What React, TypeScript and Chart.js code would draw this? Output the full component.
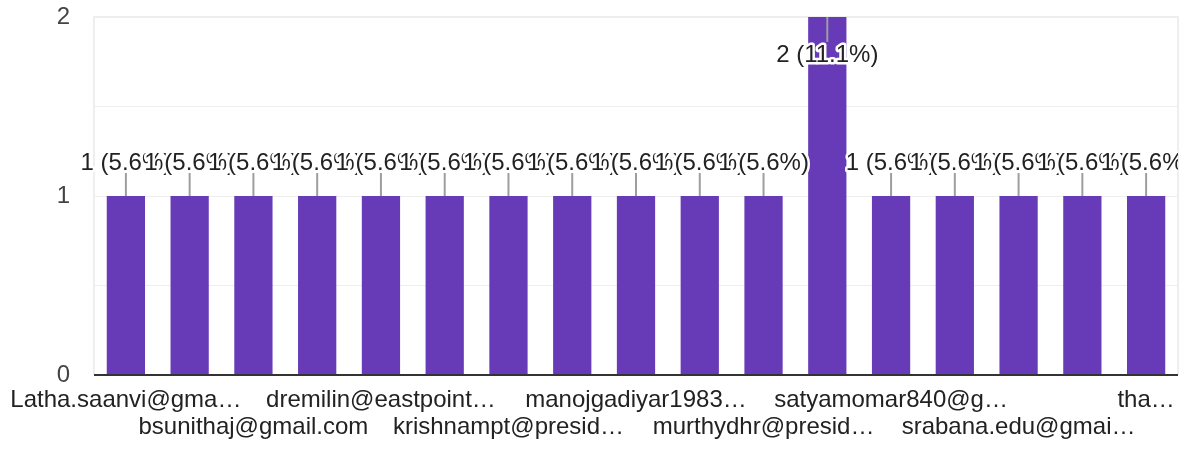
import { useEffect, useRef } from "react";
import { Chart, registerables } from "chart.js";

Chart.register(...registerables);

// Categories (only every other label is shown on the axis; hidden names are unknown)
const categories: string[] = [
  "Latha.saanvi@gma…", "", "bsunithaj@gmail.com", "", "dremilin@eastpoint…", "",
  "krishnampt@presid…", "", "manojgadiyar1983…", "", "murthydhr@presid…", "",
  "satyamomar840@g…", "", "srabana.edu@gmai…", "", "tha…",
];
const counts: number[] = [1, 1, 1, 1, 1, 1, 1, 1, 1, 1, 1, 2, 1, 1, 1, 1, 1];
const yMax = 2;
const yStep = 0.5;

const FONT = '"Liberation Sans", Arial, sans-serif';
const BAR_COLOR = "#673ab7";
const CLEAR = "rgba(0,0,0,0)";

export default function App() {
  const ref = useRef<HTMLCanvasElement | null>(null);

  useEffect(() => {
    document.body.style.margin = "0";
    const canvas = ref.current;
    if (!canvas) return;
    const total = counts.reduce((a, b) => a + b, 0);

    const framePlugin = {
      id: "frame",
      beforeDatasetsDraw(chart: any) {
        const { ctx, chartArea: a } = chart;
        ctx.save();
        ctx.strokeStyle = "#eeeeee";
        ctx.lineWidth = 2;
        ctx.beginPath();
        ctx.moveTo(a.left, a.bottom);
        ctx.lineTo(a.left, a.top);
        ctx.lineTo(a.right, a.top);
        ctx.lineTo(a.right, a.bottom);
        ctx.stroke();
        ctx.restore();
      },
    };

    const labelPlugin = {
      id: "barLabels",
      afterDatasetsDraw(chart: any) {
        const { ctx, chartArea: a } = chart;
        ctx.save();
        // baseline
        ctx.strokeStyle = "#333333";
        ctx.lineWidth = 2;
        ctx.beginPath();
        ctx.moveTo(a.left, a.bottom);
        ctx.lineTo(a.right, a.bottom);
        ctx.stroke();

        ctx.beginPath();
        ctx.rect(0, 0, a.right, chart.height);
        ctx.clip();
        ctx.font = `24px ${FONT}`;
        ctx.textAlign = "center";
        ctx.textBaseline = "middle";
        const meta = chart.getDatasetMeta(0);
        meta.data.forEach((bar: any, i: number) => {
          const v = counts[i];
          const text = `${v} (${((v / total) * 100).toFixed(1)}%)`;
          const inside = bar.y - 48 < a.top;
          const y2 = inside ? bar.y + 25 : bar.y - 23;
          const ty = inside ? bar.y + 38 : bar.y - 33;
          ctx.strokeStyle = "#9e9e9e";
          ctx.lineWidth = 2;
          ctx.beginPath();
          ctx.moveTo(bar.x, bar.y);
          ctx.lineTo(bar.x, y2);
          ctx.stroke();
          ctx.lineWidth = 5;
          ctx.lineJoin = "round";
          ctx.strokeStyle = "#ffffff";
          ctx.strokeText(text, bar.x, ty);
          ctx.fillStyle = "#222222";
          ctx.fillText(text, bar.x, ty);
        });
        ctx.restore();
      },
    };

    const chart = new Chart(canvas, {
      type: "bar",
      data: {
        labels: categories,
        datasets: [
          {
            data: counts,
            backgroundColor: BAR_COLOR,
            barPercentage: 0.6,
            categoryPercentage: 1,
          },
        ],
      },
      options: {
        responsive: false,
        animation: false,
        layout: { padding: { top: 17, right: 6, left: 0, bottom: 0 } },
        plugins: {
          legend: { display: false },
          tooltip: { enabled: false },
        },
        scales: {
          x: {
            grid: {
              display: true,
              color: CLEAR,
              drawOnChartArea: false,
              drawTicks: true,
              tickLength: 12,
              tickColor: CLEAR,
            },
            border: { display: false },
            afterFit: (s: any) => {
              s.height = 75;
            },
            ticks: {
              autoSkip: false,
              maxRotation: 0,
              minRotation: 0,
              padding: 0,
              color: "#222222",
              font: { family: FONT, size: 24, lineHeight: 1.12 },
              callback: (_v: any, i: number) => {
                const l = categories[i];
                if (!l) return "";
                return (i / 2) % 2 === 0 ? [l] : ["", l];
              },
            },
          },
          y: {
            min: 0,
            max: yMax,
            grid: {
              color: "#eeeeee",
              lineWidth: 1,
              drawTicks: true,
              tickLength: 24,
              tickColor: CLEAR,
            },
            border: { display: false },
            afterFit: (s: any) => {
              s.width = 94;
            },
            ticks: {
              stepSize: yStep,
              padding: 0,
              color: "#444444",
              font: { family: FONT, size: 24 },
              callback: (v: any) => (Number.isInteger(v) ? String(v) : ""),
            },
          },
        },
      },
      plugins: [framePlugin, labelPlugin],
    });
    return () => chart.destroy();
  }, []);

  return (
    <div style={{ width: 1184, height: 450 }}>
      <canvas ref={ref} width={1184} height={450} style={{ display: "block" }} />
    </div>
  );
}
